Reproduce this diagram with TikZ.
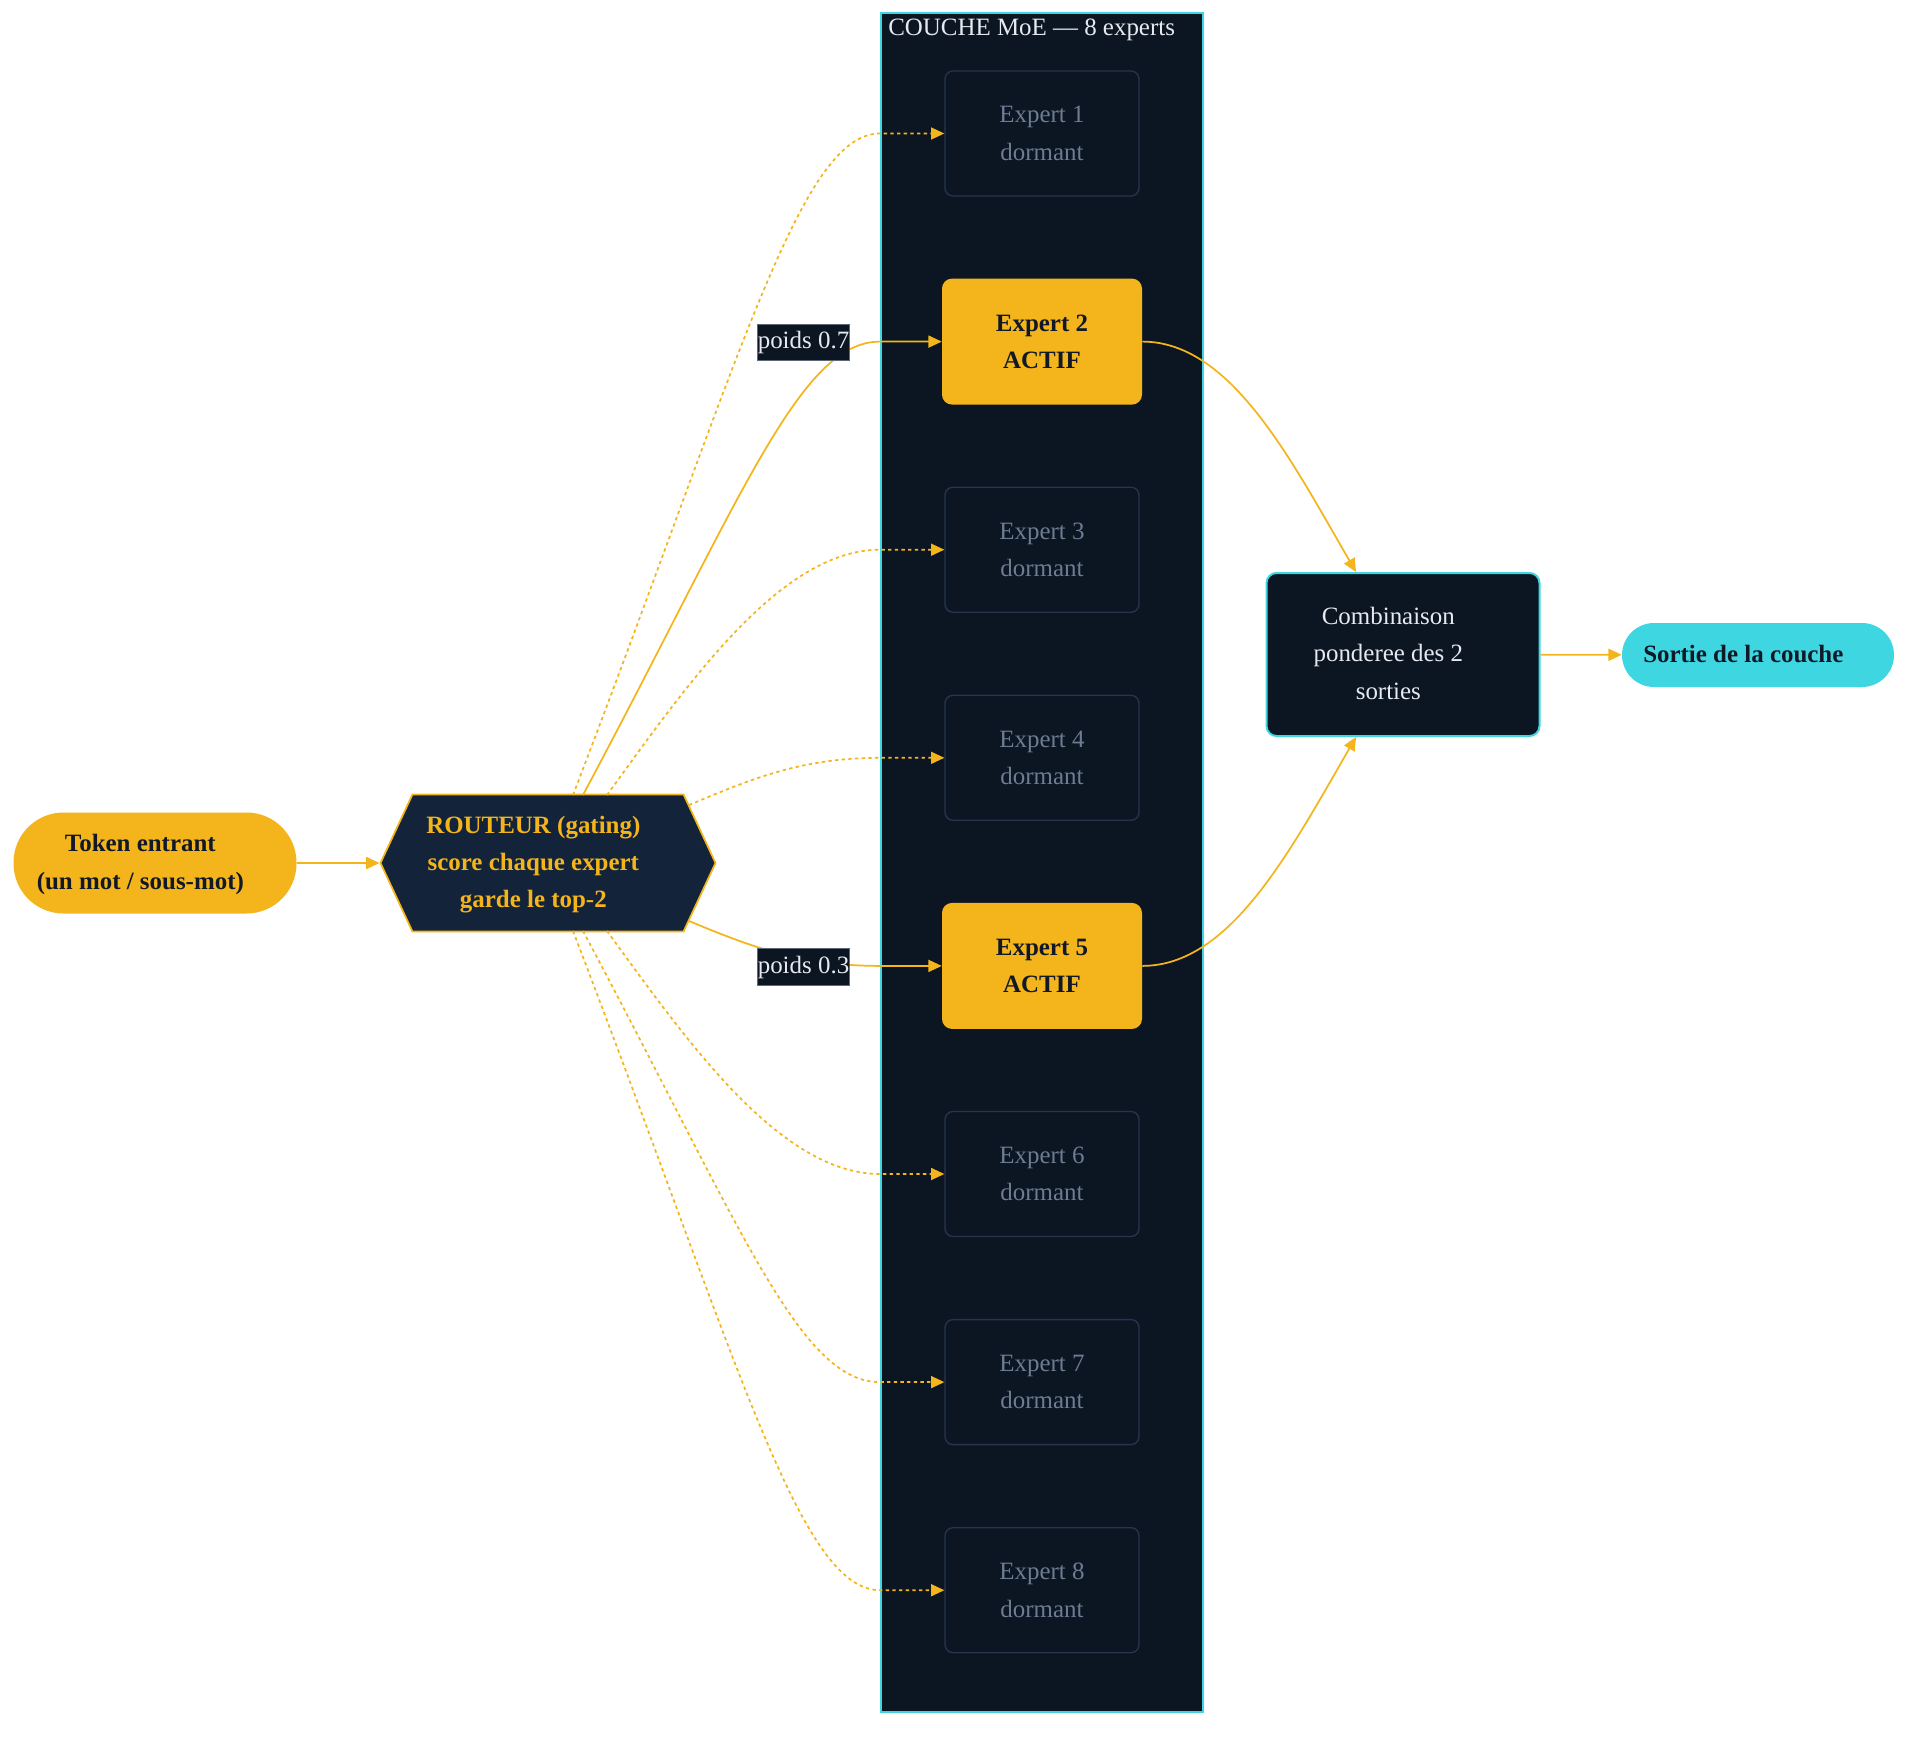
\documentclass[tikz,border=0pt]{standalone}
\usepackage{fontspec}
\setmainfont{Liberation Serif}
\usetikzlibrary{arrows.meta,calc,shapes.symbols}

\definecolor{moegold}{HTML}{F3B51B}
\definecolor{moenight}{HTML}{0C1622}
\definecolor{moerouter}{HTML}{13233A}
\definecolor{moecyan}{HTML}{3ED6E0}
\definecolor{moeedge}{HTML}{25354D}
\definecolor{moemuted}{HTML}{6C7C93}
\definecolor{moeink}{HTML}{111827}
\definecolor{moepale}{HTML}{E6EAF0}
\definecolor{moegrey}{HTML}{5E6877}

% lignes centrees, bloc un peu decale vers la gauche
\newcommand{\moelines}[1]{\begin{tabular}{@{}c@{}}#1\end{tabular}\hspace*{22pt}}

\tikzset{
  plain/.style={font=\fontsize{18.7}{28}\selectfont, inner sep=0pt},
  txt/.style={plain, align=center},
  bold/.style={font=\fontsize{18.7}{28}\selectfont\bfseries},
  dormant/.style={txt, draw=moeedge, line width=1pt, fill=moenight, text=moemuted,
    rounded corners=6pt, minimum width=145.5pt, minimum height=93.75pt},
  actif/.style={txt, bold, fill=moegold, text=moeink,
    rounded corners=7.5pt, minimum width=150pt, minimum height=94.5pt},
  flow/.style={draw=moegold, line width=1.3pt, -{Triangle[length=10pt,width=9pt]}},
  sleep/.style={flow, dash pattern=on 2.5pt off 2.5pt},
  weight/.style={txt, fill=moenight, draw=moegrey, line width=0.6pt, text=moepale,
    inner xsep=0.5pt, minimum height=27.5pt},
}

\begin{document}
\begin{tikzpicture}[x=0.75pt,y=-0.75pt]
\useasboundingbox (0,0) rectangle (1920,1737);

% la couche MoE
\node[draw=moecyan, line width=1.5pt, fill=moenight, inner sep=0pt,
  minimum width=241.5pt, minimum height=1274.25pt] (layer) at (1042,862.5) {};
\node[txt, anchor=west, text=moepale] (title) at (888,30) {COUCHE MoE — 8 experts};

% entree et routeur
\node[plain, bold, fill=moegold, text=moeink, rounded corners=37.5pt,
  minimum width=212.25pt, minimum height=75.75pt] (token) at (155,863) {\moelines{Token entrant\\(un mot / sous-mot)}};
\node[plain, bold, shape=signal, signal to=east and west, signal pointer angle=130,
  draw=moegold, line width=1.3pt, fill=moerouter, text=moegold,
  minimum width=251.25pt, minimum height=102.75pt] (router) at (548,863) {\moelines{ROUTEUR (gating)\\score chaque expert\\garde le top-2}};

% experts
\node[dormant] (e1) at (1042,133.5) {Expert 1\\dormant};
\node[actif] (e2) at (1042,341.6) {Expert 2\\ACTIF};
\node[dormant] (e3) at (1042,549.7) {Expert 3\\dormant};
\node[dormant] (e4) at (1042,757.8) {Expert 4\\dormant};
\node[actif] (e5) at (1042,965.9) {Expert 5\\ACTIF};
\node[dormant] (e6) at (1042,1174) {Expert 6\\dormant};
\node[dormant] (e7) at (1042,1382.1) {Expert 7\\dormant};
\node[dormant] (e8) at (1042,1590.2) {Expert 8\\dormant};

% sortie
\node[plain, draw=moecyan, line width=1.5pt, fill=moenight, text=moepale, rounded corners=7.5pt,
  minimum width=204.75pt, minimum height=122.25pt] (comb) at (1403,654.5) {\moelines{Combinaison\\ponderee des 2\\sorties}};
\node[plain, bold, fill=moecyan, text=moeink, rounded corners=24pt,
  minimum width=204pt, minimum height=48pt] (out) at (1758,655) {\moelines{Sortie de la couche}};

% aiguillage
\draw[flow] (token) -- (router);
\draw[sleep] ($(router.center)+(25,-68)$) .. controls +(167,-435) and +(-80,0) .. (e1.west -| layer.west) -- (e1.west);
\draw[flow] ($(router.center)+(35,-68)$) .. controls +(160,-300) and +(-80,0) .. (e2.west -| layer.west) -- (e2.west);
\draw[sleep] ($(router.center)+(59,-68)$) .. controls +(80,-110) and +(-100,0) .. (e3.west -| layer.west) -- (e3.west);
\draw[sleep] ($(router.center)+(141,-58)$) .. controls +(60,-25) and +(-80,0) .. (e4.west -| layer.west) -- (e4.west);
\draw[flow] ($(router.center)+(141,58)$) .. controls +(60,25) and +(-80,0) .. (e5.west -| layer.west) -- (e5.west);
\draw[sleep] ($(router.center)+(59,68)$) .. controls +(80,110) and +(-100,0) .. (e6.west -| layer.west) -- (e6.west);
\draw[sleep] ($(router.center)+(35,68)$) .. controls +(160,300) and +(-80,0) .. (e7.west -| layer.west) -- (e7.west);
\draw[sleep] ($(router.center)+(25,68)$) .. controls +(167,435) and +(-80,0) .. (e8.west -| layer.west) -- (e8.west);
\node[weight] (w2) at (803.5,342.5) {poids 0.7};
\node[weight] (w5) at (803.5,967) {poids 0.3};

% combinaison
\draw[flow] (e2.east) .. controls +(88,0) and +(-66,-114) .. ($(comb.north)+(-47,0)$);
\draw[flow] (e5.east) .. controls +(88,0) and +(-66,114) .. ($(comb.south)+(-47,0)$);
\draw[flow] (comb) -- (out);
\end{tikzpicture}
\end{document}
